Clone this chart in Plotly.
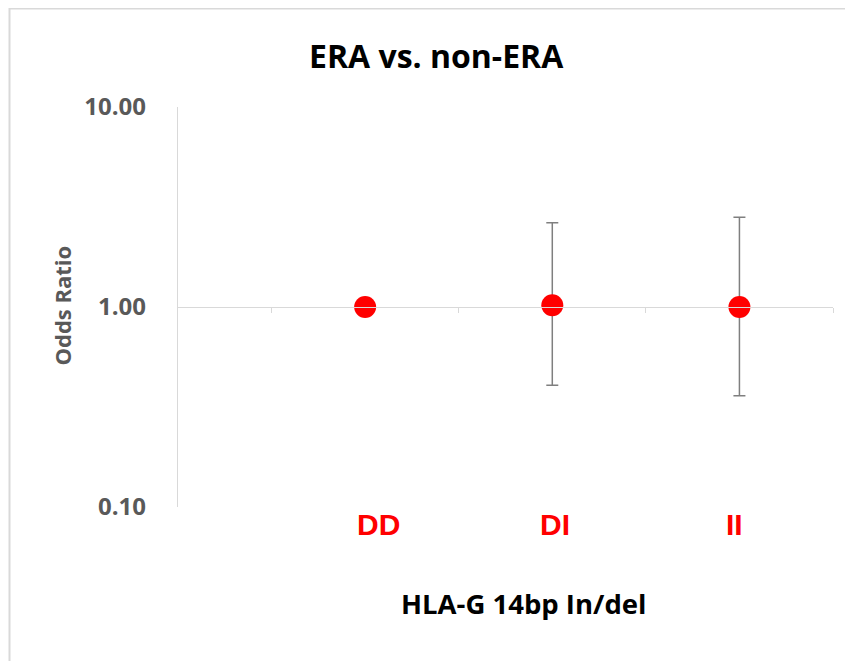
import plotly.graph_objects as go

# ---- data ----
categories = ["DD", "DI", "II"]
odds_ratio = [1.00, 1.02, 1.00]
ci_upper = [None, 2.64, 2.81]
ci_lower = [None, 0.406, 0.36]
y_tick_values = [0.1, 1, 10]
y_tick_labels = ["0.10", "1.00", "10.00"]
title_text = "ERA vs. non-ERA"
x_title = "HLA-G 14bp In/del"
y_title = "Odds Ratio"

x_pos = list(range(1, len(categories) + 1))
err_plus = [None if u is None else u - v for u, v in zip(ci_upper, odds_ratio)]
err_minus = [None if l is None else v - l for l, v in zip(ci_lower, odds_ratio)]

# geometry helpers (page pixel -> paper); page has an 8px body offset
OFF = 8
L, R, T, B = 178 - OFF, 833 - OFF, 107 - OFF, 507 - OFF
def px(x):
    return (x - OFF - L) / (R - L)
def py(y):
    return (B - (y - OFF)) / (B - T)

FONT = "Open Sans"
GRAY = "#595959"

fig = go.Figure()
fig.add_trace(go.Scatter(
    x=x_pos, y=odds_ratio, mode="markers",
    marker=dict(size=22, color="#ff0000", line=dict(width=0)),
    error_y=dict(type="data", symmetric=False, array=err_plus, arrayminus=err_minus,
                 color="#7f7f7f", thickness=1.5, width=6),
    showlegend=False, hoverinfo="skip",
))

label_offsets = [0.074, 0.017, -0.029]
annotations = []
for xp, cat, off in zip(x_pos, categories, label_offsets):
    annotations.append(dict(x=xp + off, xref="x", y=py(524.5), yref="paper",
                            text=cat, showarrow=False, xanchor="center", yanchor="middle",
                            font=dict(family="Liberation Sans", size=30, color="#ff0000", weight="bold")))
annotations.append(dict(x=px(436.5), y=py(55), xref="paper", yref="paper", text=title_text,
                        showarrow=False, xanchor="center", yanchor="middle",
                        font=dict(family=FONT, size=32, color="#000000", weight="bold")))
annotations.append(dict(x=px(523.5), y=py(603), xref="paper", yref="paper", text=x_title,
                        showarrow=False, xanchor="center", yanchor="middle",
                        font=dict(family=FONT, size=27.5, color="#000000", weight="bold")))
annotations.append(dict(x=px(61), y=py(305.5), xref="paper", yref="paper", text=y_title,
                        showarrow=False, xanchor="center", yanchor="middle", textangle=-90,
                        font=dict(family=FONT, size=22, color=GRAY, weight="bold")))

fig.update_layout(
    width=853, height=661,
    margin=dict(l=L, r=853 - R, t=T, b=661 - B, pad=0),
    paper_bgcolor="white", plot_bgcolor="white",
    showlegend=False,
    annotations=annotations,
    xaxis=dict(range=[0, 3.5], anchor="free", position=0.5,
               showgrid=False, zeroline=False,
               showline=True, linecolor="#d9d9d9", linewidth=1.3,
               ticks="outside", ticklen=5, tickcolor="#d9d9d9", tickwidth=1.3,
               tickvals=[0.5, 1.5, 2.5, 3.5], showticklabels=False),
    yaxis=dict(type="log", range=[-1, 1], showgrid=False, zeroline=False,
               showline=True, linecolor="#d9d9d9", linewidth=1.3,
               ticks="", tickvals=y_tick_values, ticktext=y_tick_labels,
               ticklabelstandoff=26,
               tickfont=dict(family=FONT, size=24, color=GRAY, weight="bold")),
    shapes=[dict(type="rect", xref="paper", yref="paper",
                 x0=px(9.5), x1=px(900), y0=py(8.5), y1=py(720),
                 line=dict(color="#d9d9d9", width=2), fillcolor="rgba(0,0,0,0)", layer="below")],
)

fig.write_html("out.html")
